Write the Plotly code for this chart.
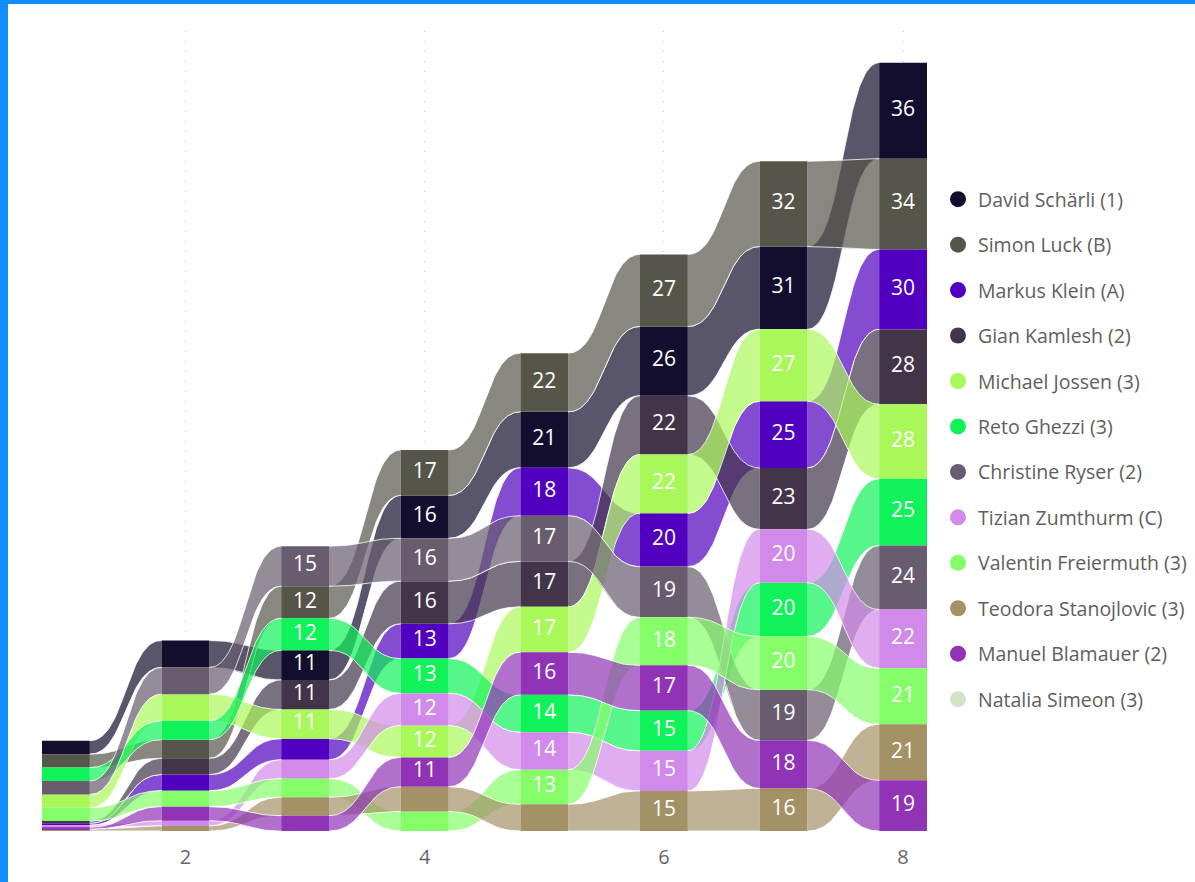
import numpy as np
import plotly.graph_objects as go

# ---------------- data ----------------
rounds = [1, 2, 3, 4, 5, 6, 7, 8]
tick_vals = [2, 4, 6, 8]

names = [
    "David Schärli (1)", "Simon Luck (B)", "Markus Klein (A)", "Gian Kamlesh (2)",
    "Michael Jossen (3)", "Reto Ghezzi (3)", "Christine Ryser (2)", "Tizian Zumthurm (C)",
    "Valentin Freiermuth (3)", "Teodora Stanojlovic (3)", "Manuel Blamauer (2)", "Natalia Simeon (3)",
]
colors = [
    "#130E2E", "#55554A", "#5000BE", "#42354A",
    "#A9F85A", "#10F25A", "#675D6E", "#D28AEA",
    "#84FD69", "#A59166", "#9033B6", "#D2E3C8",
]

david = [5.05, 10.1, 11.1, 16.1, 21, 26, 31, 36]
simon = [5.04, 7.0, 12.05, 17, 22, 27, 32, 34]
markus = [0.75, 6.05, 7.9, 13.05, 18, 20, 25, 30]
gian = [0.8, 6.1, 11.05, 16.0, 17.05, 22.05, 23, 28.05]
michael = [5.01, 10.0, 11.0, 12.0, 17.0, 22.0, 27, 28.0]
reto = [5.03, 7.05, 12.0, 13.0, 14.05, 15.1, 20.05, 25]
christine = [5.02, 10.05, 15, 16.05, 17.1, 19, 19, 24]
tizian = [0.74, 1.95, 7.1, 12.05, 14.0, 15.05, 20.1, 22]
valentin = [5.0, 6.0, 6.95, 7.3, 13, 18, 20.0, 21.05]
teodora = [0.7, 1.9, 6.9, 9.3, 10, 15.0, 16, 21.0]
manuel = [0.72, 5.25, 5.75, 11, 16, 17, 18, 19]
natalia = [0, 0, 0, 0, 0, 0, 0, 0]

series = [david, simon, markus, gian, michael, reto, christine, tizian,
          valentin, teodora, manuel, natalia]

# ---------------- stacking (ranked per round, largest on top) ----------------
n = len(series)
m = len(rounds)
bottoms = np.zeros((n, m))
for j in range(m):
    order = sorted(range(n), key=lambda i: series[i][j])
    cum = 0.0
    for i in order:
        bottoms[i, j] = cum
        cum += series[i][j]


def rgba(h, a):
    h = h.lstrip("#")
    r, g, b = int(h[0:2], 16), int(h[2:4], 16), int(h[4:6], 16)
    return f"rgba({r},{g},{b},{a})"


BAR_W = 0.4
FONT = "Segoe UI, Open Sans, sans-serif"
fig = go.Figure()

# ribbons: cubic Bezier with horizontal tangents at both columns
t = np.linspace(0, 1, 60)
c0 = (1 - t) ** 3
c1 = 3 * (1 - t) ** 2 * t
c2 = 3 * (1 - t) * t ** 2
c3 = t ** 3
for i in range(n):
    for j in range(m - 1):
        v0, v1 = series[i][j], series[i][j + 1]
        if v0 <= 0 and v1 <= 0:
            continue
        xa = rounds[j] + BAR_W / 2
        xb = rounds[j + 1] - BAR_W / 2
        xm = (xa + xb) / 2
        bx = xa * c0 + xm * (c1 + c2) + xb * c3
        b0, b1 = bottoms[i, j], bottoms[i, j + 1]
        top = (b0 + v0) * (c0 + c1) + (b1 + v1) * (c2 + c3)
        bot = b0 * (c0 + c1) + b1 * (c2 + c3)
        fig.add_trace(go.Scatter(
            x=np.concatenate([bx, bx[::-1]]), y=np.concatenate([top, bot[::-1]]),
            fill="toself", fillcolor=rgba(colors[i], 0.7), mode="lines",
            line=dict(width=0), hoverinfo="skip", showlegend=False))
        fig.add_trace(go.Scatter(
            x=np.concatenate([bx, [None], bx]), y=np.concatenate([top, [None], bot]),
            mode="lines", line=dict(color="rgba(255,255,255,0.8)", width=1),
            hoverinfo="skip", showlegend=False))

# columns
for i in range(n):
    if max(series[i]) <= 0:
        continue
    fig.add_trace(go.Bar(
        x=rounds, y=series[i], base=bottoms[i], width=BAR_W,
        marker=dict(color=colors[i], line=dict(width=0)),
        hoverinfo="skip", showlegend=False))

# data labels
for i in range(n):
    xs, ys, txt = [], [], []
    for j in range(m):
        v = series[i][j]
        if v >= 10.5:
            xs.append(rounds[j])
            ys.append(bottoms[i, j] + v / 2)
            txt.append(str(int(round(v))))
    if xs:
        fig.add_trace(go.Scatter(
            x=xs, y=ys, text=txt, mode="text",
            textfont=dict(color="white", size=21, family=FONT),
            hoverinfo="skip", showlegend=False))

# legend entries
for i in range(n):
    fig.add_trace(go.Scatter(
        x=[None], y=[None], mode="markers", name=names[i], legendgroup=names[i],
        marker=dict(size=18, color=colors[i], symbol="circle")))

L, R, T, B = 42, 268, 31, 51
W, H = 1195, 882
pw, ph = W - L - R, H - T - B


def px_x(p):
    return (p - L) / pw


def px_y(p):
    return (H - B - p) / ph


fig.update_layout(
    width=W, height=H, autosize=False,
    margin=dict(l=L, r=R, t=T, b=B, autoexpand=False),
    paper_bgcolor="white", plot_bgcolor="white",
    barmode="overlay",
    font=dict(family=FONT, color="#605E5C"),
    xaxis=dict(range=[0.8, 8.2], tickvals=tick_vals, showgrid=True,
               gridcolor="#C8C8C8", griddash="1px,9px", gridwidth=1,
               zeroline=False, showline=False, ticks="outside", ticklen=8,
               tickcolor="rgba(0,0,0,0)",
               tickfont=dict(size=20, color="#666666", family=FONT)),
    yaxis=dict(range=[0, 300], visible=False),
    legend=dict(x=px_x(938), y=px_y(180), xanchor="left", yanchor="top",
                font=dict(size=19.5, color="#605E5C", family=FONT),
                traceorder="grouped", tracegroupgap=17.1, itemwidth=30,
                bgcolor="rgba(0,0,0,0)"),
    shapes=[
        dict(type="rect", xref="paper", yref="paper",
             x0=px_x(0), x1=px_x(8), y0=px_y(H), y1=px_y(0),
             fillcolor="#118DFF", line=dict(width=0), layer="above"),
        dict(type="rect", xref="paper", yref="paper",
             x0=px_x(0), x1=px_x(W), y0=px_y(4), y1=px_y(0),
             fillcolor="#118DFF", line=dict(width=0), layer="above"),
    ],
)

fig.write_html("out.html",
               config={"displayModeBar": False, "responsive": False},
               post_script="document.body.style.margin='0';")
